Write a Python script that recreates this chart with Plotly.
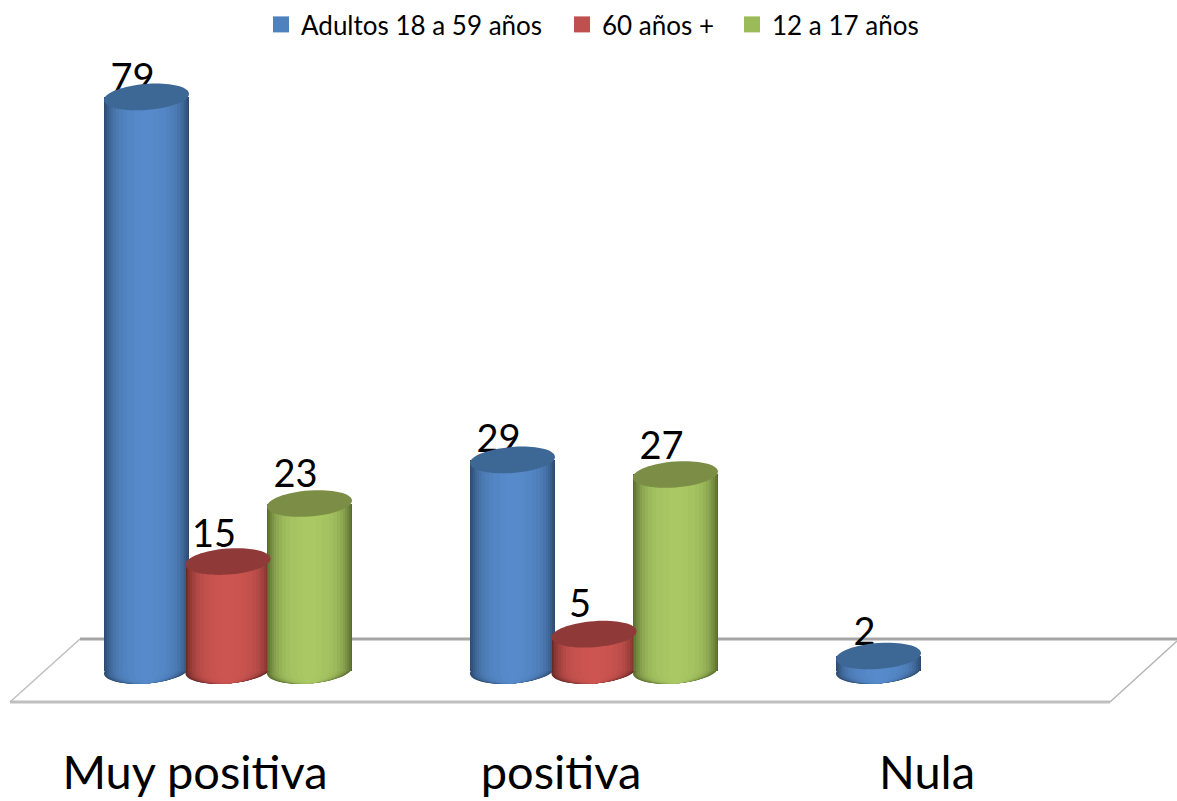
import plotly.graph_objects as go

categories = ["Muy positiva", "positiva", "Nula"]
series_names = ["Adultos 18 a 59 años", "60 años +", "12 a 17 años"]
adultos = [79, 29, 2]
mayores = [15, 5, None]
jovenes = [23, 27, None]
series_values = [adultos, mayores, jovenes]

W, H = 1177, 801
PLOT_H = 741
PX_X = 366.0            # pixels per category
PX_Y = 7.26             # pixels per value unit
X0_PX, Y0_PX = 228.0, 670.5
BAR_STEP = 81.5 / PX_X
BAR_W = 85.0 / PX_X
RY = 13.0 / PX_Y
TILT = 0.07             # rise per pixel of the cylinder ellipses

swatch = ["#4f81bd", "#c0504d", "#9bbb59"]
centre = [(86, 138, 202), (205, 85, 81), (170, 201, 100)]
edge = [(44, 74, 110), (104, 40, 38), (88, 107, 46)]
top = ["#3d6795", "#8f3a38", "#7c8e46"]
strip_width = [1.0, 0.97, 0.93, 0.89, 0.84, 0.78, 0.72, 0.65, 0.56, 0.45, 0.3, 0.15]
strip_mix = [0.0, 0.15, 0.3, 0.43, 0.55, 0.66, 0.75, 0.83, 0.89, 0.94, 0.98, 1.0]
legend_left_px = [261, 562, 732]
# label lift above the top of each cylinder, pixels, per series and category
label_drop_px = [[15, 13, 10], [7, 4, 0], [5, 6, 0]]


def mix(a, b, t):
    return "rgb(%d,%d,%d)" % tuple(round(a[i] + (b[i] - a[i]) * t) for i in range(3))


def ellipse_path(cx, cy, rx):
    dy = -TILT * rx * PX_X / PX_Y
    k = 0.5523
    l_pt = (cx - rx, cy + dy)
    r_pt = (cx + rx, cy - dy)
    t_pt = (cx, cy + RY)
    b_pt = (cx, cy - RY)

    def c(p1, p2, p3):
        return f"C{p1[0]},{p1[1]} {p2[0]},{p2[1]} {p3[0]},{p3[1]}"
    return (
        f"M{l_pt[0]},{l_pt[1]} "
        + c((cx - rx, cy + dy + k * RY), (cx - k * rx, cy + RY + k * dy), t_pt) + " "
        + c((cx + k * rx, cy + RY - k * dy), (cx + rx, cy - dy + k * RY), r_pt) + " "
        + c((cx + rx, cy - dy - k * RY), (cx + k * rx, cy - RY - k * dy), b_pt) + " "
        + c((cx - k * rx, cy - RY + k * dy), (cx - rx, cy + dy - k * RY), l_pt) + " Z"
    )


def px_x(p):
    return p / W


def px_y(p):
    return 1 - p / PLOT_H


fig = go.Figure()
shapes = []
floor = [((80, 639), (1177, 639), "#a6a6a6", 3), ((10, 702), (1110, 702), "#bfbfbf", 3),
         ((80, 639), (10, 702), "#bfbfbf", 1.5), ((1177, 641), (1110, 702), "#b5b5b5", 1.5)]
for a, b, col, lw in floor:
    shapes.append(dict(type="line", xref="paper", yref="paper", layer="below",
                       x0=px_x(a[0]), y0=px_y(a[1]), x1=px_x(b[0]), y1=px_y(b[1]),
                       line=dict(color=col, width=lw)))

label_x, label_y, label_text = [], [], []
top_shapes = []
for s, vals in enumerate(series_values):
    xs = [g + (s - 1) * BAR_STEP for g in range(len(categories))]
    for w, t in zip(strip_width, strip_mix):
        col = mix(edge[s], centre[s], t)
        fig.add_trace(go.Bar(x=xs, y=vals, width=BAR_W * w, marker=dict(color=col, line_width=0),
                             showlegend=False, hoverinfo="skip"))
        for x, v in zip(xs, vals):
            if v is not None:
                shapes.append(dict(type="path", xref="x", yref="y", layer="below",
                                   path=ellipse_path(x, 0, BAR_W / 2 * w),
                                   fillcolor=col, line_width=0))
    for g, (x, v) in enumerate(zip(xs, vals)):
        if v is not None:
            top_shapes.append(dict(type="path", xref="x", yref="y", layer="above",
                                   path=ellipse_path(x, v, BAR_W / 2),
                                   fillcolor=top[s], line_width=0))
            label_x.append(x - 14 / PX_X)
            label_y.append(v + 1.6 - label_drop_px[s][g] / PX_Y)
            label_text.append(str(v))

fig.add_trace(go.Scatter(x=label_x, y=label_y, text=label_text, mode="text",
                         textposition="top center", showlegend=False, hoverinfo="skip",
                         textfont=dict(family="Lato", size=38, color="#000000")))

legend_layout = {}
for i, (name, col, left) in enumerate(zip(series_names, swatch, legend_left_px)):
    key = "legend" if i == 0 else f"legend{i + 1}"
    fig.add_trace(go.Scatter(x=[None], y=[None], mode="markers", name=name, legend=key,
                             marker=dict(symbol="square", size=16, color=col)))
    legend_layout[key] = dict(x=left / W, xanchor="left", y=1 - 1 / PLOT_H, yanchor="top",
                              font=dict(family="Lato", size=26), itemwidth=30,
                              bgcolor="rgba(0,0,0,0)")

fig.update_layout(
    width=W, height=H, barmode="overlay", bargap=0,
    margin=dict(l=0, r=0, t=0, b=H - PLOT_H, pad=0),
    paper_bgcolor="white", plot_bgcolor="white",
    shapes=shapes + top_shapes,
    font=dict(family="Lato", color="#000000"),
    xaxis=dict(range=[-X0_PX / PX_X, (W - X0_PX) / PX_X], showgrid=False, zeroline=False,
               showline=False, ticks="", tickmode="array",
               tickvals=[g - 33 / PX_X for g in range(len(categories))], ticktext=categories,
               tickfont=dict(family="Lato", size=47, color="#000000")),
    yaxis=dict(range=[(Y0_PX - PLOT_H) / PX_Y, Y0_PX / PX_Y], showgrid=False, zeroline=False,
               showline=False, showticklabels=False, ticks=""),
    **legend_layout,
)

fig.write_html("out.html", post_script="document.body.style.margin='0';document.documentElement.style.overflow='hidden';",
               config={"displayModeBar": False})
